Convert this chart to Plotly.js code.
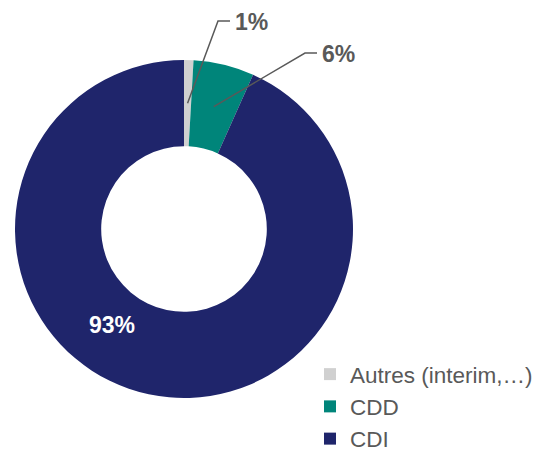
<!DOCTYPE html>
<html>
<head>
<meta charset="utf-8">
<script src="https://cdn.plot.ly/plotly-3.0.1.min.js"></script>
<style>
  body { margin: 0; background: #fff; }
  #chart { width: 547px; height: 451px; }
</style>
</head>
<body>
<div id="chart"></div>
<script>
// contract types (share of headcount, %)
var labels = ["Autres (interim,…)", "CDD", "CDI"];
var values = [0.9, 5.8, 93.3];
var colors = ["#D0D0D0", "#00857A", "#1F256B"];

// outside labels: pixel position of the elbow of each leader line (null = label inside)
var labelElbow = [[218, 21], [305, 53], null];
var insideLabelPos = [112, 325];

var W = 547, H = 451;
var cx = 184, cy = 229, R = 169, hole = 0.49;

var total = values.reduce(function(a, b){ return a + b; }, 0);

var shapes = [];
var annotations = [];
var cum = 0;
for (var i = 0; i < values.length; i++) {
  var frac = values[i] / total;
  var mid = (cum + frac / 2) * 2 * Math.PI;
  cum += frac;
  var pct = Math.round(frac * 100) + "%";
  if (labelElbow[i]) {
    var r = R * (1 + hole) / 2;
    var sx = cx + r * Math.sin(mid), sy = cy - r * Math.cos(mid);
    var ex = labelElbow[i][0], ey = labelElbow[i][1];
    shapes.push({
      type: "path", xref: "paper", yref: "paper",
      path: "M" + sx / W + "," + (1 - sy / H) + " L" + ex / W + "," + (1 - ey / H) +
            " L" + (ex + 12) / W + "," + (1 - ey / H),
      line: {color: "#595959", width: 1.5}
    });
    annotations.push({
      xref: "paper", yref: "paper", x: (ex + 15) / W, y: 1 - (ey + 1) / H,
      xanchor: "left", yanchor: "middle", showarrow: false,
      text: "<b>" + pct + "</b>",
      font: {size: 23, color: "#595959"}
    });
  } else {
    annotations.push({
      xref: "paper", yref: "paper", x: insideLabelPos[0] / W, y: 1 - insideLabelPos[1] / H,
      xanchor: "center", yanchor: "middle", showarrow: false,
      text: "<b>" + pct + "</b>",
      font: {size: 23, color: "#FFFFFF"}
    });
  }
}

var data = [{
  type: "pie",
  labels: labels,
  values: values,
  hole: hole,
  sort: false,
  direction: "clockwise",
  rotation: 0,
  textinfo: "none",
  hoverinfo: "label+percent",
  marker: {colors: colors, line: {width: 0}},
  domain: {x: [(cx - R) / W, (cx + R) / W], y: [1 - (cy + R) / H, 1 - (cy - R) / H]}
}];

var layout = {
  width: W, height: H,
  margin: {l: 0, r: 0, t: 0, b: 0, autoexpand: false},
  paper_bgcolor: "#FFFFFF",
  font: {family: "Liberation Sans, Arial, sans-serif", color: "#595959"},
  showlegend: true,
  legend: {
    x: 310 / W, xanchor: "left",
    y: -9 / H, yanchor: "bottom",
    font: {size: 22.5, color: "#595959"},
    tracegroupgap: 0,
    itemwidth: 30
  },
  shapes: shapes,
  annotations: annotations
};

Plotly.newPlot("chart", data, layout, {displayModeBar: false, staticPlot: true});
</script>
</body>
</html>
